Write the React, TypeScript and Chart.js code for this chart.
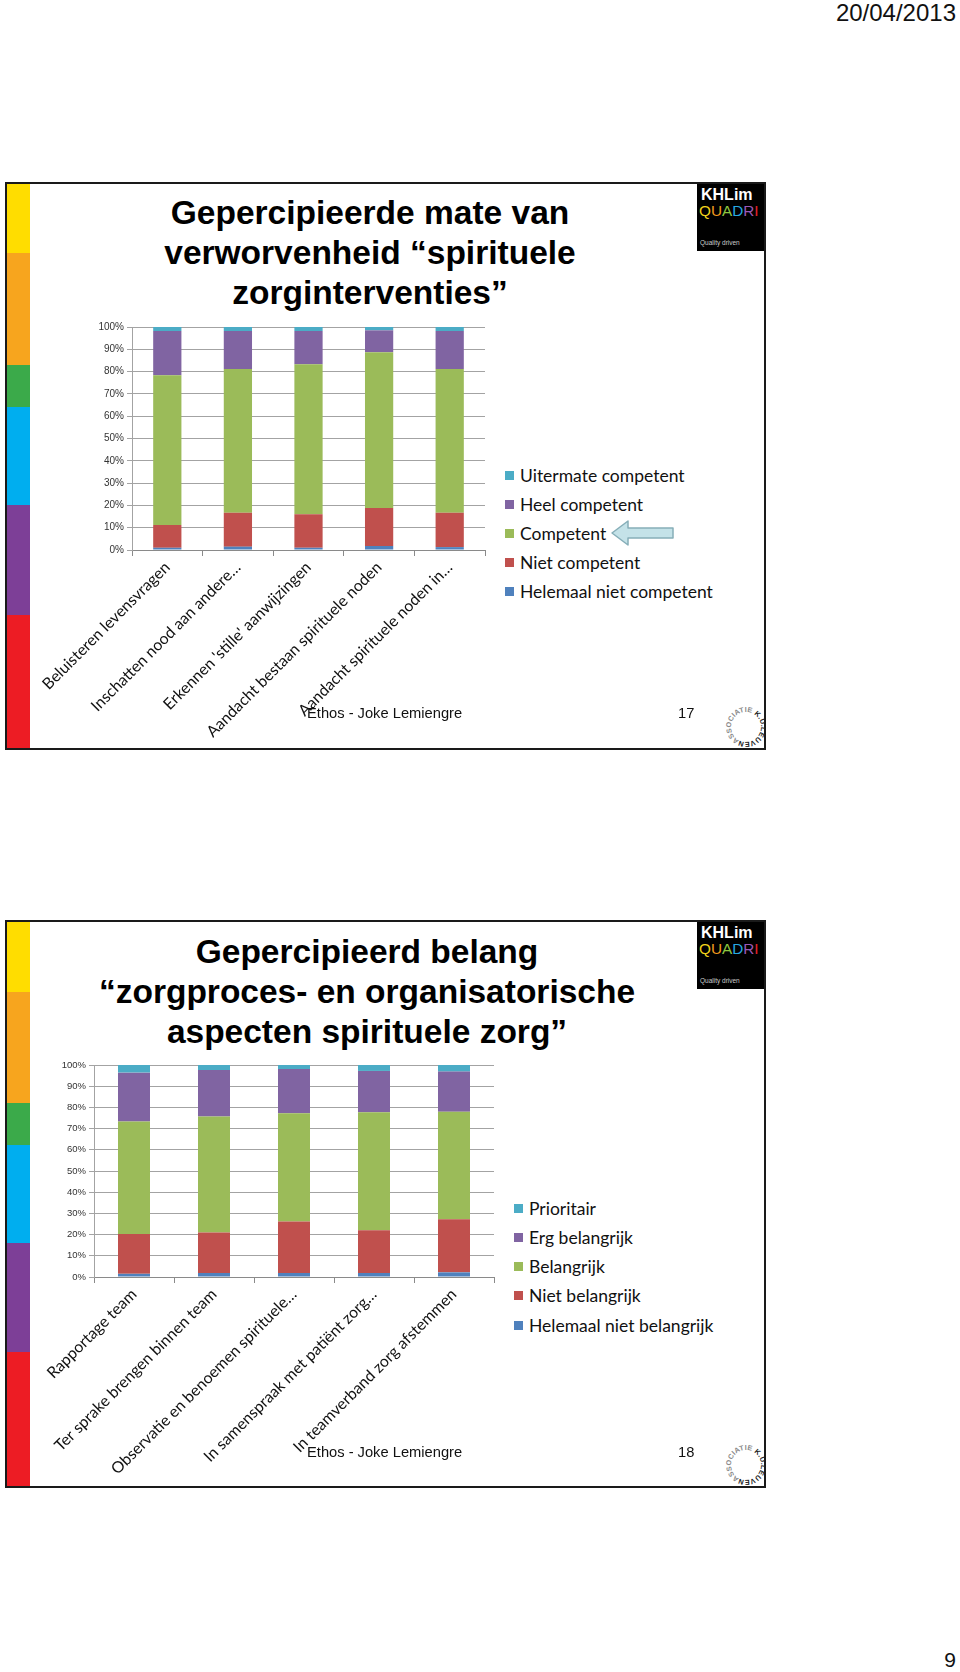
import React, { useEffect, useRef } from 'react';
import { Chart, registerables } from 'chart.js';
Chart.register(...registerables);

// ---------- Slide 17 data ----------
const categories1 = [
  'Beluisteren levensvragen',
  'Inschatten nood aan andere…',
  "Erkennen 'stille' aanwijzingen",
  'Aandacht bestaan spirituele noden',
  'Aandacht spirituele noden in…',
];
const seriesNames1 = ['Helemaal niet competent', 'Niet competent', 'Competent', 'Heel competent', 'Uitermate competent'];
const helemaalNietCompetent = [1.0, 1.5, 1.0, 1.8, 1.3];
const nietCompetent = [10.2, 15.2, 15.0, 17.0, 15.4];
const competent = [67.2, 64.5, 67.3, 69.9, 64.5];
const heelCompetent = [19.8, 17.0, 14.9, 9.8, 17.0];
const uitermateCompetent = [1.8, 1.8, 1.8, 1.5, 1.8];

// ---------- Slide 18 data ----------
const categories2 = [
  'Rapportage team',
  'Ter sprake brengen binnen team',
  'Observatie en benoemen spirituele…',
  'In samenspraak met patiënt zorg…',
  'In teamverband zorg afstemmen',
];
const seriesNames2 = ['Helemaal niet belangrijk', 'Niet belangrijk', 'Belangrijk', 'Erg belangrijk', 'Prioritair'];
const helemaalNietBelangrijk = [1.5, 1.9, 1.9, 1.9, 2.2];
const nietBelangrijk = [18.8, 19.1, 24.3, 20.2, 25.0];
const belangrijk = [53.0, 54.7, 51.0, 55.6, 50.8];
const ergBelangrijk = [23.1, 21.9, 20.9, 19.5, 18.9];
const prioritair = [3.6, 2.4, 1.9, 2.8, 3.1];

const yTicks = [0, 10, 20, 30, 40, 50, 60, 70, 80, 90, 100];

const seriesColors = ['#4F81BD', '#C0504D', '#9BBB59', '#8064A2', '#4BACC6'];
const stripColors = ['#FFDD00', '#F7A51E', '#3BAA4A', '#00AEEF', '#7D3F97', '#ED1C24'];

type ChartProps = {
  categories: string[];
  series: number[][];
  names: string[];
  left: number;
  top: number;
  width: number;
  height: number;
  pad: { left: number; right: number; top: number; bottom: number };
  yWidth: number;
  xHeight: number;
  tickFont: number;
};

function StackedChart(p: ChartProps) {
  const ref = useRef<HTMLCanvasElement>(null);
  useEffect(() => {
    const chart = new Chart(ref.current as HTMLCanvasElement, {
      type: 'bar',
      data: {
        labels: p.categories,
        datasets: p.series.map((d, i) => ({
          label: p.names[i],
          data: d,
          backgroundColor: seriesColors[i],
          borderWidth: 0,
          barPercentage: 0.4,
          categoryPercentage: 1,
        })),
      },
      options: {
        animation: false,
        responsive: false,
        maintainAspectRatio: false,
        layout: { padding: p.pad },
        plugins: { legend: { display: false }, tooltip: { enabled: false } },
        scales: {
          x: {
            stacked: true,
            grid: { drawOnChartArea: false, tickLength: 6, color: '#8a8a8a' },
            border: { color: '#8a8a8a' },
            ticks: {
              autoSkip: false,
              minRotation: 45,
              maxRotation: 45,
              padding: 2,
              color: '#111',
              font: { family: 'Lato', size: 15.8 },
            },
            afterFit: (s: any) => {
              s.height = p.xHeight;
              s.paddingLeft = 0;
              s.paddingRight = 0;
            },
          },
          y: {
            stacked: true,
            min: 0,
            max: 100,
            afterBuildTicks: (s: any) => {
              s.ticks = yTicks.map((v) => ({ value: v }));
            },
            ticks: {
              callback: (v: any) => v + '%',
              color: '#333',
              padding: 3,
              font: { family: 'Liberation Sans', size: p.tickFont },
            },
            grid: { color: '#a3a3a3', tickLength: 5 },
            border: { display: true, color: '#a3a3a3' },
            afterFit: (s: any) => {
              s.width = p.yWidth;
              s.paddingTop = 0;
              s.paddingBottom = 0;
            },
          },
        },
      },
    } as any);
    return () => chart.destroy();
  }, []);
  return (
    <canvas
      ref={ref}
      width={p.width}
      height={p.height}
      style={{ position: 'absolute', left: p.left, top: p.top, width: p.width, height: p.height }}
    />
  );
}

function Strip({ bounds }: { bounds: number[] }) {
  return (
    <>
      {stripColors.map((c, i) => (
        <div
          key={i}
          style={{ position: 'absolute', left: 7, width: 23, top: bounds[i], height: bounds[i + 1] - bounds[i], background: c }}
        />
      ))}
    </>
  );
}

function Logo({ top }: { top: number }) {
  const q = [
    ['Q', '#F2D21B'],
    ['U', '#F39A1E'],
    ['A', '#8CC63F'],
    ['D', '#27A9E1'],
    ['R', '#9B59B6'],
    ['I', '#E8202A'],
  ];
  return (
    <div style={{ position: 'absolute', left: 697, top, width: 67, height: 67, background: '#000' }}>
      <div style={{ position: 'absolute', left: 4, top: 2, color: '#fff', font: 'bold 16px "Liberation Sans", Arial', lineHeight: '18px' }}>
        KHLim
      </div>
      <div style={{ position: 'absolute', left: 2, top: 18, font: '15.3px "Liberation Sans", Arial', lineHeight: '18px', whiteSpace: 'nowrap' }}>
        {q.map(([ch, col], i) => (
          <span key={i} style={{ color: col }}>
            {ch}
          </span>
        ))}
      </div>
      <div style={{ position: 'absolute', left: 3, top: 55, color: '#ccc', font: '6.5px "Liberation Sans", Arial', whiteSpace: 'nowrap' }}>
        Quality driven
      </div>
    </div>
  );
}

function Leuven({ top }: { top: number }) {
  const cx = 24;
  const cy = 28;
  const r = 15;
  const a0 = (118 * Math.PI) / 180;
  const sx = cx + r * Math.cos(a0);
  const sy = cy + r * Math.sin(a0);
  const ex = cx + r * Math.cos(a0 - 0.01);
  const ey = cy + r * Math.sin(a0 - 0.01);
  const id = 'circ' + top;
  return (
    <svg style={{ position: 'absolute', left: 722, top }} width={43} height={52}>
      <defs>
        <path id={id} d={`M ${sx} ${sy} A ${r} ${r} 0 1 1 ${ex} ${ey}`} />
      </defs>
      <text style={{ font: 'bold 7.2px "Liberation Sans", Arial' }} letterSpacing={0.2}>
        <textPath href={'#' + id}>
          <tspan fill="#8a8a8a">ASSOCIATIE </tspan>
          <tspan fill="#222">K.U.LEUVEN</tspan>
        </textPath>
      </text>
    </svg>
  );
}

function Legend({ names, left, top, gap, font }: { names: string[]; left: number; top: number; gap: number; font: number }) {
  const items = names.map((n, i) => ({ n, c: seriesColors[i] })).reverse();
  return (
    <>
      {items.map((it, i) => (
        <div
          key={i}
          style={{
            position: 'absolute',
            left,
            top: top + i * gap - 12,
            height: 24,
            display: 'flex',
            alignItems: 'center',
            whiteSpace: 'nowrap',
            font: `${font}px Lato, sans-serif`,
            color: '#111',
          }}
        >
          <span style={{ display: 'inline-block', width: 9, height: 9, background: it.c, marginRight: 6 }} />
          {it.n}
        </div>
      ))}
    </>
  );
}

const titleStyle: React.CSSProperties = {
  position: 'absolute',
  width: 640,
  textAlign: 'center',
  font: 'bold 33.5px "Liberation Sans", Arial, sans-serif',
  lineHeight: '40px',
  color: '#000',
  whiteSpace: 'nowrap',
};

const footStyle: React.CSSProperties = {
  position: 'absolute',
  font: '14.7px "Liberation Sans", Arial, sans-serif',
  color: '#111',
  lineHeight: '18px',
  whiteSpace: 'nowrap',
};

export default function App() {
  return (
    <div style={{ position: 'absolute', left: 0, top: 0, width: 960, height: 1672, background: '#fff', overflow: 'hidden' }}>
      <div style={{ position: 'absolute', right: 4, top: 0, font: '24px "Liberation Sans", Arial, sans-serif', color: '#111', lineHeight: '26px' }}>
        20/04/2013
      </div>

      {/* ---------- Slide 17 ---------- */}
      <div style={{ position: 'absolute', left: 5, top: 182, width: 761, height: 568, border: '2px solid #1a1a1a', boxSizing: 'border-box', background: '#fff' }} />
      <Strip bounds={[184, 253, 365, 407, 505, 615, 748]} />
      <Logo top={184} />
      <div style={{ ...titleStyle, left: 50, top: 193 }}>
        Gepercipieerde mate van
        <br />
        verworvenheid “spirituele
        <br />
        zorginterventies”
      </div>
      <StackedChart
        categories={categories1}
        series={[helemaalNietCompetent, nietCompetent, competent, heelCompetent, uitermateCompetent]}
        names={seriesNames1}
        left={30}
        top={310}
        width={470}
        height={438}
        pad={{ left: 62, right: 15, top: 17, bottom: 0 }}
        yWidth={40}
        xHeight={198}
        tickFont={10}
      />
      <div style={{ ...footStyle, left: 307, top: 704 }}>Ethos - Joke Lemiengre</div>
      <div style={{ ...footStyle, left: 678, top: 704 }}>17</div>
      <Leuven top={699} />
      <Legend names={seriesNames1} left={505} top={475} gap={29} font={17.5} />
      <svg style={{ position: 'absolute', left: 605, top: 515 }} width={75} height={36}>
        <polygon
          points="7,18 23,6 23,13 68,13 68,23 23,23 23,30"
          fill="#C4E2E8"
          stroke="#86AEB8"
          strokeWidth={1.5}
          strokeLinejoin="round"
        />
      </svg>

      {/* ---------- Slide 18 ---------- */}
      <div style={{ position: 'absolute', left: 5, top: 920, width: 761, height: 568, border: '2px solid #1a1a1a', boxSizing: 'border-box', background: '#fff' }} />
      <Strip bounds={[922, 992, 1103, 1145, 1243, 1352, 1486]} />
      <Logo top={922} />
      <div style={{ ...titleStyle, left: 47, top: 932 }}>
        Gepercipieerd belang
        <br />
        “zorgproces- en organisatorische
        <br />
        aspecten spirituele zorg”
      </div>
      <StackedChart
        categories={categories2}
        series={[helemaalNietBelangrijk, nietBelangrijk, belangrijk, ergBelangrijk, prioritair]}
        names={seriesNames2}
        left={30}
        top={1048}
        width={480}
        height={438}
        pad={{ left: 24, right: 16, top: 17, bottom: 0 }}
        yWidth={40}
        xHeight={209}
        tickFont={9.5}
      />
      <div style={{ ...footStyle, left: 307, top: 1443 }}>Ethos - Joke Lemiengre</div>
      <div style={{ ...footStyle, left: 678, top: 1443 }}>18</div>
      <Leuven top={1437} />
      <Legend names={seriesNames2} left={514} top={1208} gap={29.3} font={17.5} />

      <div style={{ position: 'absolute', right: 4, top: 1648, font: '21px "Liberation Sans", Arial, sans-serif', color: '#111', lineHeight: '24px' }}>
        9
      </div>
    </div>
  );
}
